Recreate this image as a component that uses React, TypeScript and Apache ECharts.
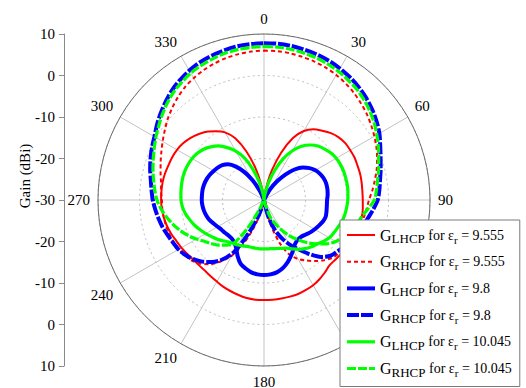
import React, { useEffect, useRef } from "react";
import * as echarts from "echarts";

const SERIF = '"Liberation Serif", "Times New Roman", serif';

// Sample angles (degrees, clockwise from boresight)
const angles = [
  0, 5, 10, 15, 20, 25, 30, 35, 40, 45, 50, 55, 60, 65, 70, 75, 80, 85,
  90, 95, 100, 105, 110, 115, 120, 125, 130, 135, 140, 145, 150, 155, 160, 165, 170, 175,
  180, 185, 190, 195, 200, 205, 210, 215, 220, 225, 230, 235, 240, 245, 250, 255, 260, 265,
  270, 275, 280, 285, 290, 295, 300, 305, 310, 315, 320, 325, 330, 335, 340, 345, 350, 355,
];

// Gain in dBi (values at or below -30 sit at the plot centre)
const redLHCP = [
  -30, -30, -27, -22.5, -17.8, -13.5, -10.8, -9.2, -8.2, -7.2, -6.5, -6.1, -6.0, -5.9, -6.0, -6.0, -6.1, -6.2,
  -6.2, -6.1, -6.1, -6.3, -6.5, -6.8, -7.1, -7.3, -7.6, -7.7, -7.2, -6.7, -6.3, -6.1, -5.9, -5.9, -5.9, -5.9,
  -5.9, -5.9, -6.0, -6.3, -6.6, -6.9, -7.3, -7.6, -7.8, -7.8, -7.7, -7.4, -7.0, -6.7, -6.2, -5.8, -5.5, -5.3,
  -5.2, -5.2, -5.2, -5.3, -5.5, -5.6, -5.8, -6.2, -6.8, -7.6, -8.5, -9.8, -11.2, -13.6, -17.5, -22.0, -26.5, -30,
];
const redRHCP = [
  6.0, 6.0, 5.9, 5.7, 5.5, 5.2, 4.8, 4.3, 3.7, 3.0, 2.3, 1.5, 0.7, -0.1, -1.0, -1.9, -2.9, -3.8,
  -4.7, -5.2, -5.6, -6.0, -6.5, -6.9, -7.3, -7.8, -8.4, -9.5, -10.8, -12.2, -13.6, -15.5, -19.0, -24.0, -30, -30,
  -30, -30, -30, -27, -23, -18.5, -14.5, -12.0, -9.8, -8.3, -7.3, -6.8, -6.3, -6.0, -5.8, -5.6, -5.5, -5.4,
  -5.4, -5.1, -4.8, -4.2, -3.5, -2.7, -1.8, -0.8, 0.3, 1.3, 2.3, 3.2, 3.9, 4.5, 5.0, 5.4, 5.7, 5.9,
];
const blueLHCP = [
  -30, -30, -30, -30, -30, -30, -27, -24.5, -22, -19.6, -17.8, -16.6, -15.7, -15.1, -14.7, -14.5, -14.5, -14.6,
  -14.8, -14.8, -14.7, -14.6, -14.9, -15.4, -15.9, -16.4, -17.0, -17.4, -17.4, -17.0, -16.0, -14.9, -13.8, -12.9, -12.3, -12.0,
  -11.9, -12.0, -12.3, -12.9, -13.6, -15.0, -16.6, -17.5, -17.9, -17.9, -17.7, -17.5, -17.1, -16.6, -16.0, -15.6, -15.3, -15.1,
  -15.0, -15.0, -15.0, -15.1, -15.3, -15.6, -16.0, -16.4, -16.9, -17.8, -19.5, -21.8, -24.5, -27.5, -30, -30, -30, -30,
];
const blueRHCP = [
  7.8, 7.8, 7.7, 7.5, 7.3, 7.0, 6.6, 6.1, 5.5, 4.8, 4.0, 3.1, 2.1, 0.9, -0.1, -0.9, -1.6, -2.1,
  -2.6, -3.6, -4.6, -5.3, -6.0, -6.8, -7.6, -8.4, -9.1, -10.6, -13.0, -15.5, -17.6, -19.8, -22.3, -25.5, -29, -30,
  -30, -30, -30, -28.5, -25.5, -21, -15.5, -12.5, -10.5, -9.0, -7.8, -6.9, -6.2, -5.8, -5.3, -4.7, -4.2, -3.7,
  -3.2, -2.8, -2.3, -1.6, -0.9, -0.2, 0.5, 1.5, 2.5, 3.5, 4.5, 5.3, 6.0, 6.6, 7.0, 7.3, 7.6, 7.7,
];
const greenLHCP = [
  -30, -30, -28.5, -25.5, -22.3, -19, -16.3, -14.2, -12.7, -11.6, -10.9, -10.3, -9.9, -9.7, -9.6, -9.6, -9.6, -9.7,
  -9.8, -10.0, -10.2, -10.5, -11.0, -11.4, -11.8, -12.6, -13.4, -14.0, -14.7, -15.5, -16.4, -17.2, -17.6, -17.9, -18.1, -18.2,
  -18.2, -18.2, -18.2, -18.2, -18.1, -17.8, -17.5, -17.2, -16.8, -16.1, -15.3, -14.6, -13.8, -13.0, -12.2, -11.5, -10.8, -10.3,
  -10.0, -9.9, -9.8, -9.7, -9.7, -9.8, -10.0, -10.4, -11.0, -11.9, -13.0, -14.6, -16.4, -18.8, -22.0, -25.5, -28.5, -30,
];
const greenRHCP = [
  7.0, 7.0, 6.9, 6.7, 6.5, 6.2, 5.8, 5.3, 4.8, 4.1, 3.3, 2.4, 1.4, 0.4, -0.6, -1.4, -2.2, -2.8,
  -3.4, -4.9, -6.2, -6.9, -7.6, -8.8, -10.0, -11.6, -13.6, -15.5, -17.6, -19.6, -21.8, -23.8, -25.8, -29, -30, -30,
  -30, -30, -30, -30, -30, -28, -22.5, -17.2, -15.8, -14.6, -13.6, -12.6, -11.2, -9.8, -8.5, -7.3, -6.2, -5.1,
  -4.2, -3.6, -3.0, -2.3, -1.6, -0.8, 0.1, 1.0, 2.0, 3.0, 3.9, 4.6, 5.3, 5.8, 6.2, 6.6, 6.8, 6.9,
];

const permittivities = ["9.555", "9.8", "10.045"];
const polarisations = ["LHCP", "RHCP"];
const leftTicks = [10, 0, -10, -20, -30, -20, -10, 0, 10];

const curves = [
  { pol: 0, eps: 0, values: redLHCP, color: "#ff0000", width: 2, dash: "solid" as any },
  { pol: 1, eps: 0, values: redRHCP, color: "#ff0000", width: 2, dash: [4, 3] },
  { pol: 0, eps: 1, values: blueLHCP, color: "#0000ff", width: 4, dash: "solid" as any },
  { pol: 1, eps: 1, values: blueRHCP, color: "#0000ff", width: 4, dash: [12, 2] },
  { pol: 0, eps: 2, values: greenLHCP, color: "#00ff00", width: 3.2, dash: "solid" as any },
  { pol: 1, eps: 2, values: greenRHCP, color: "#00ff00", width: 3.2, dash: [9, 2] },
];

const seriesName = (c: { pol: number; eps: number }) =>
  `G${polarisations[c.pol]} for εr = ${permittivities[c.eps]}`;

const richLabel: Record<string, string> = {};
curves.forEach((c) => {
  richLabel[seriesName(c)] =
    `{g|G}{sub|${polarisations[c.pol]}}{t| for ε}{rs|r}{t| = ${permittivities[c.eps]}}`;
});

export default function App() {
  const ref = useRef<HTMLDivElement>(null);

  useEffect(() => {
    if (!ref.current) return;
    const chart = echarts.init(ref.current, undefined, { renderer: "svg" });

    const series: any[] = curves.map((c) => ({
      name: seriesName(c),
      type: "line",
      coordinateSystem: "polar",
      symbol: "none",
      smooth: 0.3,
      data: c.values
        .map((v, i) => [Math.max(v, -30), angles[i]])
        .concat([[Math.max(c.values[0], -30), 360]]),
      lineStyle: { color: c.color, width: c.width, type: c.dash },
      itemStyle: { color: c.color },
    }));

    chart.setOption({
      animation: false,
      backgroundColor: "#ffffff",
      polar: { center: [264, 200], radius: 166 },
      angleAxis: {
        type: "value",
        min: 0,
        max: 360,
        interval: 30,
        startAngle: 90,
        clockwise: true,
        axisLine: { show: true, lineStyle: { color: "#6a6a6a", width: 1 } },
        axisTick: { show: false },
        axisLabel: { margin: 8, fontSize: 15, fontFamily: SERIF, color: "#000" },
        splitLine: { show: true, lineStyle: { color: "#c4c4c4", width: 1 } },
      },
      radiusAxis: {
        type: "value",
        min: -30,
        max: 10,
        interval: 10,
        axisLine: { show: false },
        axisTick: { show: false },
        axisLabel: { show: false },
        splitLine: { show: true, lineStyle: { color: "#bdbdbd", width: 1, type: [2, 3] } },
      },
      grid: { left: 64, top: 34, width: 10, height: 332 },
      xAxis: { type: "value", show: false, min: 0, max: 1 },
      yAxis: {
        type: "value",
        min: -40,
        max: 40,
        interval: 10,
        axisLine: { show: true, lineStyle: { color: "#8a8a8a" } },
        axisTick: { show: true, length: 5, lineStyle: { color: "#8a8a8a" } },
        axisLabel: {
          margin: 9,
          fontSize: 15,
          fontFamily: SERIF,
          color: "#000",
          formatter: (v: number) => String(leftTicks[Math.round((40 - v) / 10)]),
        },
        splitLine: { show: false },
      },
      legend: {
        orient: "vertical",
        left: 340,
        top: 220,
        itemWidth: 28,
        itemHeight: 12,
        itemGap: 8.7,
        backgroundColor: "#ffffff",
        borderColor: "#7a7a7a",
        borderWidth: 1,
        borderRadius: 0,
        padding: [7, 8, 8, 5],
        itemStyle: { opacity: 0 },
        lineStyle: { width: "inherit" as any },
        formatter: (name: string) => richLabel[name],
        textStyle: {
          fontFamily: SERIF,
          color: "#000",
          rich: {
            g: { fontSize: 16, fontFamily: SERIF, color: "#000", lineHeight: 20 },
            sub: { fontSize: 13, fontFamily: SERIF, color: "#000", lineHeight: 13, verticalAlign: "bottom" },
            t: { fontSize: 14, fontFamily: SERIF, color: "#000", lineHeight: 20 },
            rs: { fontSize: 11, fontFamily: SERIF, color: "#000", lineHeight: 12, verticalAlign: "bottom" },
          },
        },
      },
      graphic: [
        {
          type: "text",
          x: 25,
          y: 176,
          rotation: Math.PI / 2,
          style: {
            text: "Gain (dBi)",
            font: `15px ${SERIF}`,
            fill: "#000",
            align: "center",
            verticalAlign: "middle",
          },
        },
      ],
      series,
    });

    return () => chart.dispose();
  }, []);

  return (
    <div
      ref={ref}
      style={{ position: "fixed", left: 0, top: 0, width: 526, height: 388, background: "#fff" }}
    />
  );
}
